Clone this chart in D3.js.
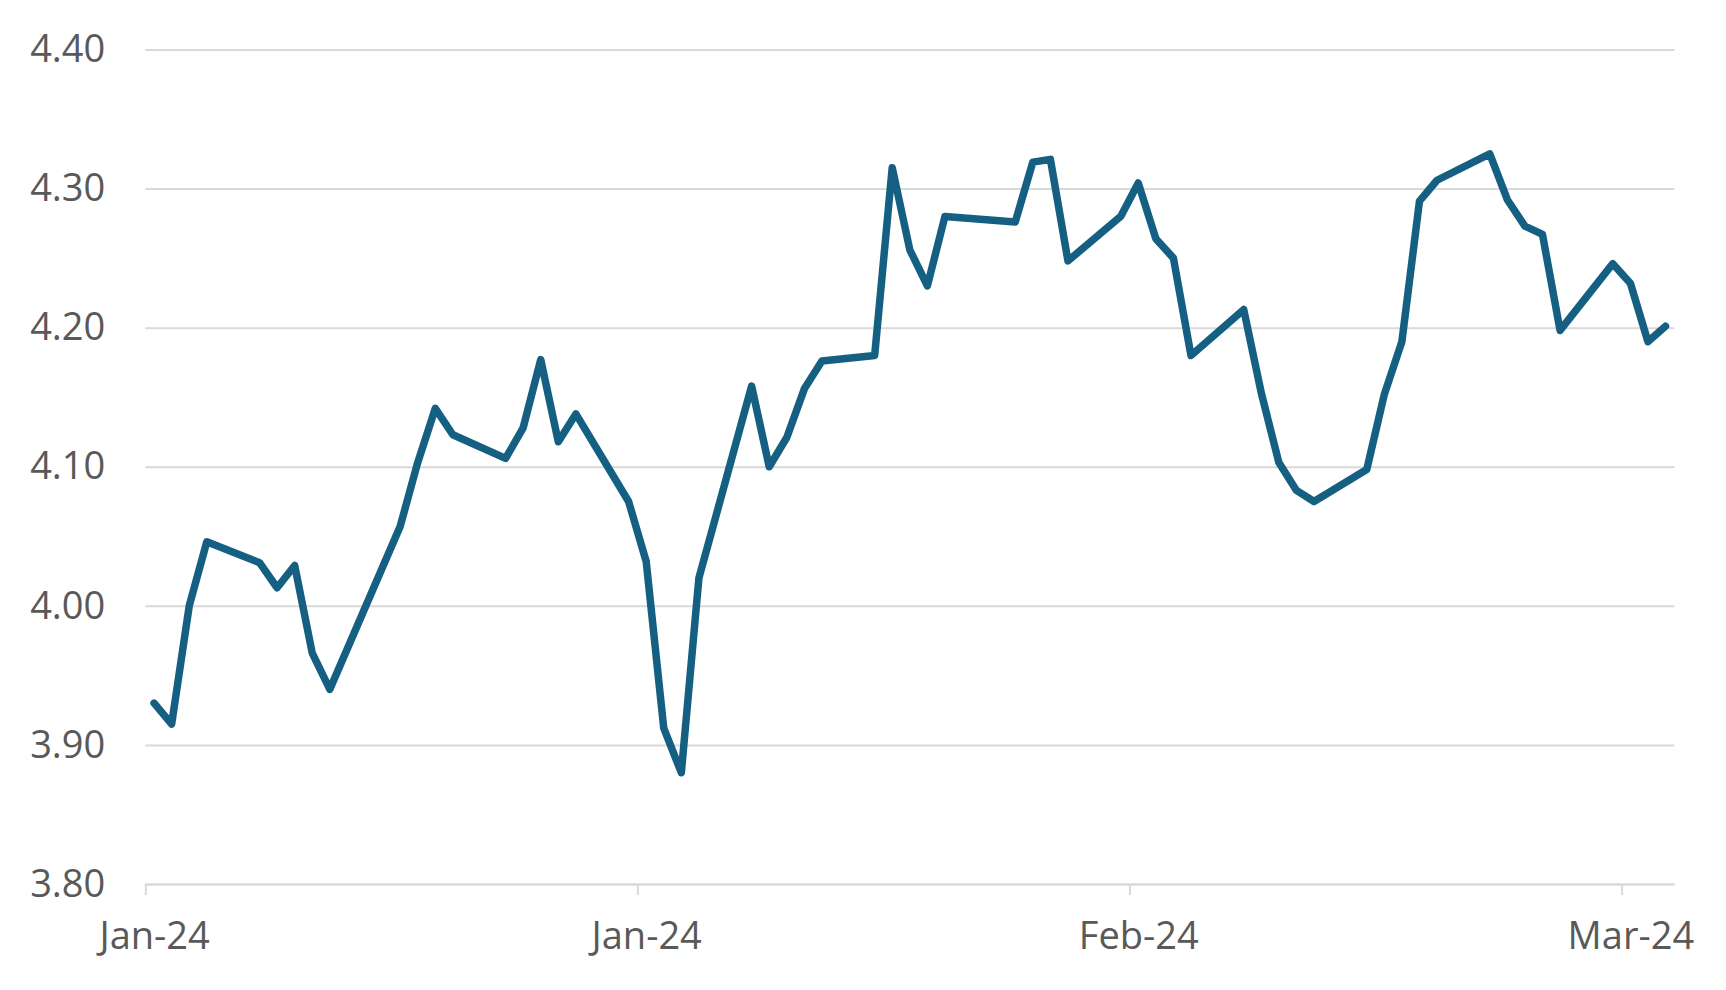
<!DOCTYPE html>
<html>
<head>
<meta charset="utf-8">
<script src="https://cdn.jsdelivr.net/npm/d3@7"></script>
<style>
  html, body { margin: 0; padding: 0; background: #ffffff; }
  svg { display: block; }
</style>
</head>
<body>
<svg id="chart" width="1726" height="990"></svg>
<script>
// ---- data (trading days, Jan 2 – Mar 28, 2024) ----
const dates = [
  "2024-01-02","2024-01-03","2024-01-04","2024-01-05",
  "2024-01-08","2024-01-09","2024-01-10","2024-01-11","2024-01-12",
  "2024-01-16","2024-01-17","2024-01-18","2024-01-19",
  "2024-01-22","2024-01-23","2024-01-24","2024-01-25","2024-01-26",
  "2024-01-29","2024-01-30","2024-01-31","2024-02-01","2024-02-02",
  "2024-02-05","2024-02-06","2024-02-07","2024-02-08","2024-02-09",
  "2024-02-12","2024-02-13","2024-02-14","2024-02-15","2024-02-16",
  "2024-02-20","2024-02-21","2024-02-22","2024-02-23",
  "2024-02-26","2024-02-27","2024-02-28","2024-02-29","2024-03-01",
  "2024-03-04","2024-03-05","2024-03-06","2024-03-07","2024-03-08",
  "2024-03-11","2024-03-12","2024-03-13","2024-03-14","2024-03-15",
  "2024-03-18","2024-03-19","2024-03-20","2024-03-21","2024-03-22",
  "2024-03-25","2024-03-26","2024-03-27","2024-03-28"
];
const yields = [
  3.930, 3.915, 4.000, 4.046,
  4.031, 4.013, 4.029, 3.966, 3.940,
  4.057, 4.103, 4.142, 4.123,
  4.106, 4.128, 4.177, 4.118, 4.138,
  4.075, 4.032, 3.912, 3.880, 4.020,
  4.158, 4.100, 4.121, 4.156, 4.176,
  4.180, 4.315, 4.256, 4.230, 4.280,
  4.276, 4.319, 4.321, 4.248,
  4.280, 4.304, 4.264, 4.250, 4.180,
  4.213, 4.153, 4.103, 4.083, 4.075,
  4.098, 4.152, 4.190, 4.291, 4.306,
  4.325, 4.292, 4.273, 4.267, 4.198,
  4.246, 4.232, 4.190, 4.201
];
const xDomain = ["2024-01-02", "2024-03-29"];
const xTickDates = ["2024-01-02", "2024-01-30", "2024-02-27", "2024-03-26"];
const yTicks = [3.80, 3.90, 4.00, 4.10, 4.20, 4.30, 4.40];
const yDomain = [3.80, 4.40];

// ---- layout ----
const W = 1726, H = 990;
const plotL = 145.3, plotR = 1674.3, plotT = 49.5, plotB = 884;
const FONT = "'Open Sans', 'Noto Sans', sans-serif";
const TEXT = "#595959", GRID = "#d9d9d9", LINE = "#156082";

const parse = d3.utcParse("%Y-%m-%d");
const HALF_DAY = 12 * 3600 * 1000;

const x = d3.scaleUtc().domain(xDomain.map(parse)).range([plotL, plotR]);
const y = d3.scaleLinear().domain(yDomain).range([plotB, plotT]);

const svg = d3.select("#chart");
svg.append("rect").attr("width", W).attr("height", H).attr("fill", "#fff");

// y axis with gridlines
const yAxis = d3.axisLeft(y)
  .tickValues(yTicks)
  .tickFormat(d3.format(".2f"))
  .tickSizeInner(-(plotR - plotL))
  .tickSizeOuter(0)
  .tickPadding(40);

const gy = svg.append("g")
  .attr("transform", `translate(${plotL},0)`)
  .call(yAxis);
gy.select(".domain").remove();
gy.selectAll(".tick line").attr("stroke", GRID).attr("stroke-width", 2);
gy.selectAll(".tick text")
  .attr("fill", TEXT)
  .style("font-family", FONT)
  .style("font-size", "38px");

// x axis
const halfDayPx = x(new Date(parse(xDomain[0]).getTime() + HALF_DAY)) - x(parse(xDomain[0]));
const xAxis = d3.axisBottom(x)
  .tickValues(xTickDates.map(parse))
  .tickFormat(d3.utcFormat("%b-%y"))
  .tickSizeInner(11)
  .tickSizeOuter(0)
  .tickPadding(27.5);

const gx = svg.append("g")
  .attr("transform", `translate(0,${plotB})`)
  .call(xAxis);
gx.select(".domain").attr("stroke", GRID).attr("stroke-width", 2);
gx.selectAll(".tick line").attr("stroke", GRID).attr("stroke-width", 2);
gx.selectAll(".tick text")
  .attr("x", halfDayPx)
  .attr("fill", TEXT)
  .style("font-family", FONT)
  .style("font-size", "38px");

// line
const data = dates.map((d, i) => ({ date: new Date(parse(d).getTime() + HALF_DAY), value: yields[i] }));
const line = d3.line().x(d => x(d.date)).y(d => y(d.value));

svg.append("path")
  .datum(data)
  .attr("d", line)
  .attr("fill", "none")
  .attr("stroke", LINE)
  .attr("stroke-width", 7.5)
  .attr("stroke-linejoin", "round")
  .attr("stroke-linecap", "round");
</script>
</body>
</html>
